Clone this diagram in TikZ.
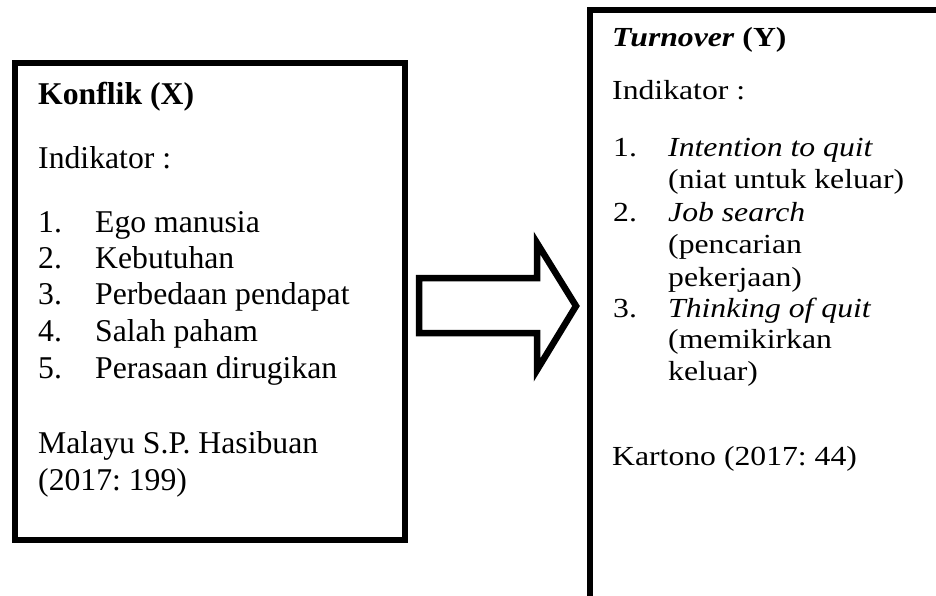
\documentclass[tikz,border=0pt]{standalone}
\usepackage{fontspec}
\setmainfont{Liberation Serif}
\frenchspacing
\newcommand{\pipih}[1]{\scalebox{1}[0.87]{#1}}
\begin{document}
\begin{tikzpicture}[x=1pt, y=-1pt,
    box/.style={draw, line width=6pt},
    txt/.style={anchor=base west, inner sep=0pt, font=\fontsize{31.7}{36}\selectfont}]
    \useasboundingbox (0,0) rectangle (936,596);

    % --- kotak kiri (X) ---
    \draw[box] (15,63) rectangle (405,540);
    % --- kotak kanan (Y), terpotong di kanan dan bawah ---
    \draw[box] (590,620) -- (590,10) -- (960,10);

    % --- panah blok ---
    \draw[line width=6.5pt, line join=miter]
        (419,278) -- (537,278) -- (537,243) -- (576,306)
        -- (537,370) -- (537,333) -- (419,333) -- cycle;

    % --- teks kiri ---
    \node[txt, font=\fontsize{31.7}{36}\selectfont\bfseries] (judulX) at (38,105) {Konflik (X)};
    \node[txt] (indX) at (38,168) {Indikator :};
    \foreach \i/\y/\isi in {1/232/Ego manusia, 2/268/Kebutuhan, 3/304/Perbedaan pendapat,
                            4/341/Salah paham, 5/378/Perasaan dirugikan} {
        \node[txt] (noX\i) at (38,\y) {\i.};
        \node[txt] (itemX\i) at (95,\y) {\isi};
    }
    \node[txt] (sumberX1) at (38,453) {Malayu S.P. Hasibuan};
    \node[txt] (sumberX2) at (38,490) {(2017: 199)};

    % --- teks kanan ---
    \node[txt] (judulY) at (612,47) {\pipih{\textbf{\textit{Turnover}} \textbf{(Y)}}};
    \node[txt] (indY) at (612,100) {\pipih{Indikator :}};
    \foreach \i/\y in {1/157, 2/221, 3/317} {
        \node[txt] (noY\i) at (613,\y) {\pipih{\i.}};
    }
    \foreach \n/\y/\isi in {1/157/\textit{Intention to quit}, 2/189/(niat untuk keluar),
                            3/221/\textit{Job search}, 4/253/(pencarian, 5/286/pekerjaan),
                            6/317/\textit{Thinking of quit}, 7/348/(memikirkan, 8/380/keluar)} {
        \node[txt] (itemY\n) at (668,\y) {\pipih{\isi}};
    }
    \node[txt] (sumberY) at (612,465) {\pipih{Kartono (2017: 44)}};
\end{tikzpicture}
\end{document}
